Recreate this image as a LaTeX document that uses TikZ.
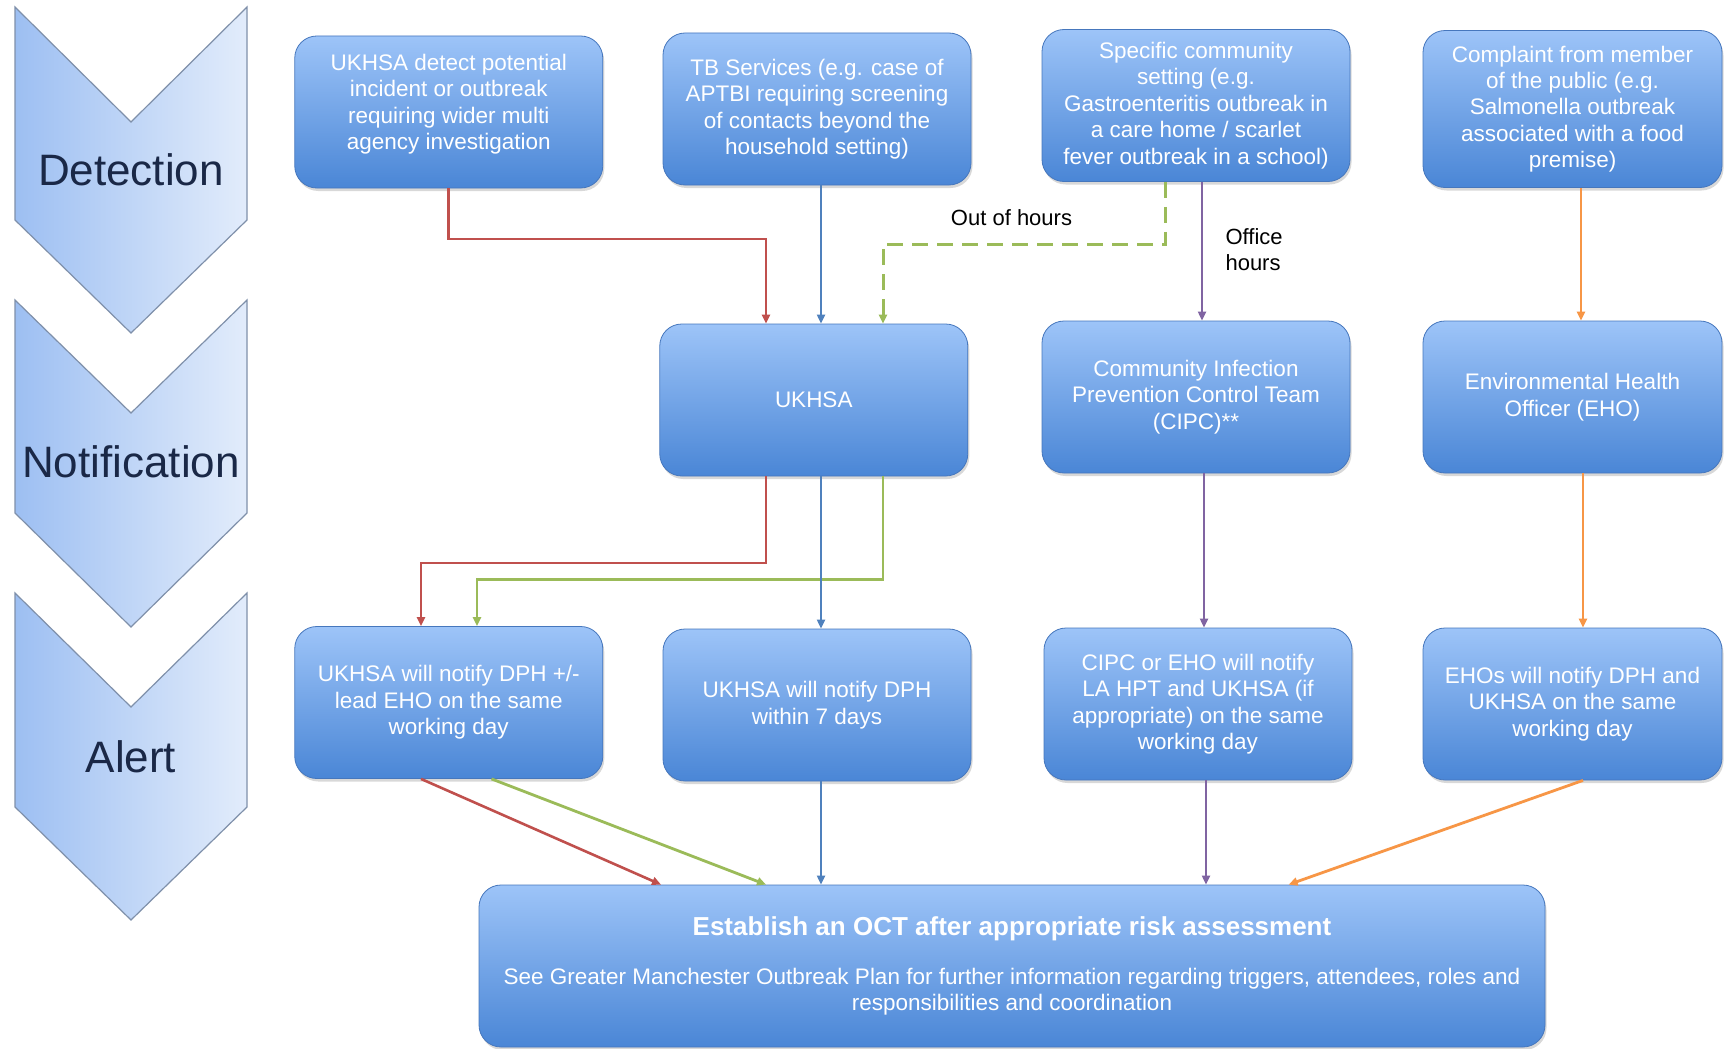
\documentclass[tikz,border=0pt]{standalone}
\usepackage{fontspec}
\setmainfont{Liberation Sans}
\usetikzlibrary{arrows.meta,shadows}
\definecolor{cred}{HTML}{C0504D}
\definecolor{cblue}{HTML}{4F81BD}
\definecolor{cgreen}{HTML}{9BBB59}
\definecolor{cpurple}{HTML}{8064A2}
\definecolor{corange}{HTML}{F79646}
\definecolor{boxtop}{HTML}{9DC4F8}
\definecolor{boxbot}{HTML}{4A86D6}
\definecolor{boxline}{HTML}{4677BD}
\definecolor{chevL}{HTML}{9DBFF2}
\definecolor{chevR}{HTML}{E2ECFB}
\definecolor{chevline}{HTML}{7F90AA}
\definecolor{chevtext}{HTML}{1A2847}
\begin{document}
\begin{tikzpicture}[x=1pt,y=-1pt,
  flowbox/.style={rectangle, rounded corners=22pt, draw=boxline, line width=0.8pt,
    top color=boxtop, bottom color=boxbot, text=white, align=center,
    font=\fontsize{22.5}{26.4}\selectfont, minimum width=308pt, minimum height=152pt,
    inner sep=2pt, drop shadow={opacity=0.3,shadow xshift=1.5pt,shadow yshift=-3pt}},
  chev/.style={draw=chevline, line width=1.2pt, left color=chevL, right color=chevR},
  chevlab/.style={text=chevtext, font=\fontsize{44}{50}\selectfont},
  lab/.style={text=black, font=\fontsize{22}{26.4}\selectfont, align=left},
  tip/.style={-{Triangle[length=9pt,width=8pt]}},
  redl/.style={tip, draw=cred, line width=2.6pt},
  bluel/.style={tip, draw=cblue, line width=2pt},
  greenl/.style={tip, draw=cgreen, line width=2.8pt},
  greend/.style={tip, draw=cgreen, line width=3pt, dash pattern=on 16pt off 9pt},
  purplel/.style={tip, draw=cpurple, line width=2pt},
  orangel/.style={tip, draw=corange, line width=2.8pt}
]
\useasboundingbox[fill=white] (0,0) rectangle (1724,1049);

% chevrons
\path[chev] (15,7) -- (131,122) -- (247,7) -- (247,220) -- (131,333) -- (15,220) -- cycle;
\path[chev] (15,300) -- (131,413) -- (247,300) -- (247,513) -- (131,627) -- (15,513) -- cycle;
\path[chev] (15,593) -- (131,707) -- (247,593) -- (247,807) -- (131,920) -- (15,807) -- cycle;
\node[chevlab] (det) at (131,170) {Detection};
\node[chevlab] (noti) at (131,462) {Notification};
\node[chevlab] (alert) at (131,757) {Alert};

% row 1
\node[flowbox] (b1) at (448.75,112) {UKHSA detect potential\\incident or outbreak\\requiring wider multi\\agency investigation\\[-6pt]\mbox{}};
\node[flowbox] (b2) at (817,109) {TB Services (e.g. case of\\APTBI requiring screening\\of contacts beyond the\\household setting)};
\node[flowbox] (b3) at (1196,105.5) {Specific community\\setting (e.g.\\Gastroenteritis outbreak in\\a care home / scarlet\\fever outbreak in a school)};
\node[flowbox, minimum width=299pt, minimum height=157pt] (b4) at (1572.5,109) {Complaint from member\\of the public (e.g.\\Salmonella outbreak\\associated with a food\\premise)};

% row 2
\node[flowbox] (ukhsa) at (813.75,400) {UKHSA};
\node[flowbox] (cipc) at (1196,397) {Community Infection\\Prevention Control Team\\(CIPC)**};
\node[flowbox, minimum width=299pt] (eho) at (1572.5,397) {Environmental Health\\Officer (EHO)};

% row 3
\node[flowbox] (a1) at (448.75,702.5) {UKHSA will notify DPH +/-\\lead EHO on the same\\working day};
\node[flowbox] (a2) at (817,705) {UKHSA will notify DPH\\within 7 days};
\node[flowbox] (a3) at (1198,704) {CIPC or EHO will notify\\LA HPT and UKHSA (if\\appropriate) on the same\\working day};
\node[flowbox, minimum width=299pt] (a4) at (1572.5,704) {EHOs will notify DPH and\\UKHSA on the same\\working day};

% bottom
\node[flowbox, minimum width=1066pt, minimum height=162pt] (oct) at (1012,966)
  {{\fontsize{26}{30}\selectfont\bfseries Establish an OCT after appropriate risk assessment}\\[22pt]
   See Greater Manchester Outbreak Plan for further information regarding triggers, attendees, roles and\\
   responsibilities and coordination};

% helper coordinates
\coordinate (rbend) at (766,239);
\coordinate (xb) at (821,0);
\coordinate (gstart) at (1165.5,0);
\coordinate (gbend) at (883,244);
\coordinate (xp1) at (1202,0);
\coordinate (xo1) at (1581,0);
\coordinate (r2) at (421,563);
\coordinate (g2) at (477,579.5);
\coordinate (xp2) at (1204,0);
\coordinate (xo2) at (1583,0);
\coordinate (e1) at (661,0);
\coordinate (g3s) at (491.5,0);
\coordinate (e2) at (766,0);
\coordinate (xp3) at (1206,0);
\coordinate (e5) at (1288.6,0);

% row 1 -> row 2
\draw[redl] (b1.south) |- (rbend) -- (ukhsa.north -| rbend);
\draw[bluel] (b2.south -| xb) -- (ukhsa.north -| xb);
\draw[greend] (b3.south -| gstart) |- (gbend) -- (ukhsa.north -| gbend);
\draw[purplel] (b3.south -| xp1) -- (cipc.north -| xp1);
\draw[orangel] (b4.south -| xo1) -- (eho.north -| xo1);
\node[lab] (ooh) at (1011.5,218) {Out of hours};
\node[lab, anchor=west] (offh) at (1222,249.5) {Office\\hours};

% row 2 -> row 3
\draw[redl] (ukhsa.south -| rbend) |- (r2) -- (a1.north -| r2);
\draw[greenl] (ukhsa.south -| gbend) |- (g2) -- (a1.north -| g2);
\draw[bluel] (ukhsa.south -| xb) -- (a2.north -| xb);
\draw[purplel] (cipc.south -| xp2) -- (a3.north -| xp2);
\draw[orangel] (eho.south -| xo2) -- (a4.north -| xo2);

% row 3 -> bottom
\draw[redl] (a1.south -| r2) -- (oct.north -| e1);
\draw[greenl] (a1.south -| g3s) -- (oct.north -| e2);
\draw[bluel] (a2.south -| xb) -- (oct.north -| xb);
\draw[purplel] (a3.south -| xp3) -- (oct.north -| xp3);
\draw[orangel] (a4.south -| xo2) -- (oct.north -| e5);
\end{tikzpicture}
\end{document}
